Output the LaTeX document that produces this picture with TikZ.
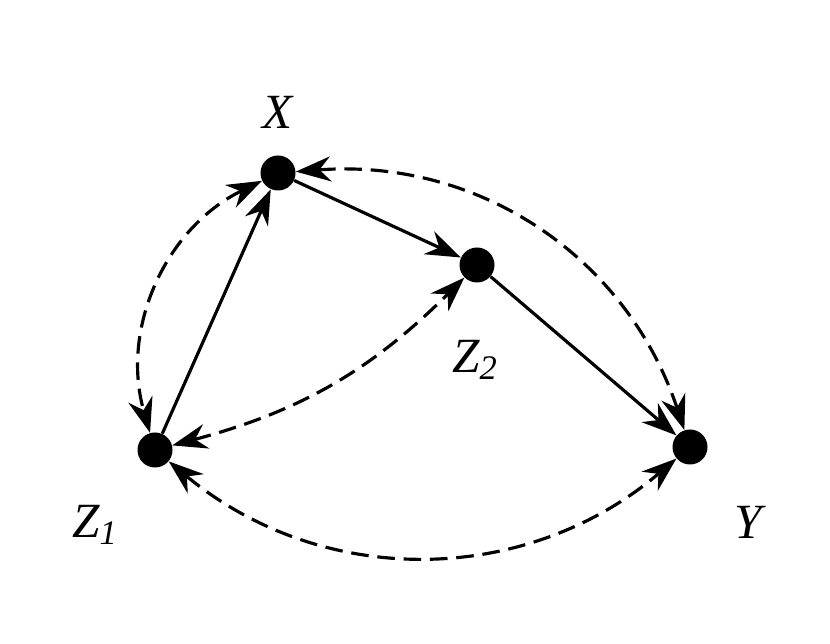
\documentclass[tikz,border=0pt]{standalone}
\usepackage{fontspec}
\setmainfont{Liberation Serif}
\usetikzlibrary{arrows.meta}
\begin{document}
\begin{tikzpicture}[
  vert/.style={circle,fill=black,inner sep=0pt,minimum size=0.7cm},
  lab/.style={font=\fontsize{28}{32}\selectfont\itshape},
  arr/.style={line width=1.8pt,-{Stealth[length=7mm,width=5mm]}},
  biarr/.style={line width=1.8pt,dash pattern=on 10pt off 5pt,{Stealth[length=7mm,width=5mm]}-{Stealth[length=7mm,width=5mm]}}]
\useasboundingbox (0,0) rectangle (16.6,12.88);
\node[vert] (X) at (5.56,9.42) {};
\node[vert] (Z2) at (9.54,7.58) {};
\node[vert] (Z1) at (3.10,3.88) {};
\node[vert] (Y) at (13.8,3.94) {};
\node[lab] (lX) at (5.56,10.64) {X};
\node[lab] (lZ2) at (9.5,5.68) {Z\textsubscript{2}};
\node[lab] (lZ1) at (1.9,2.38) {Z\textsubscript{1}};
\node[lab] (lY) at (14.96,2.44) {Y};
\draw[arr] (X) -- (Z2);
\draw[arr] (Z2) -- (Y);
\draw[arr] (Z1) -- (X);
\draw[biarr] (X) to[bend right=40] (Z1);
\draw[biarr] (X) to[bend left=38] (Y);
\draw[biarr] (Z1) to[bend right=15] (Z2);
\draw[biarr] (Z1) to[bend right=40] (Y);
\end{tikzpicture}
\end{document}
